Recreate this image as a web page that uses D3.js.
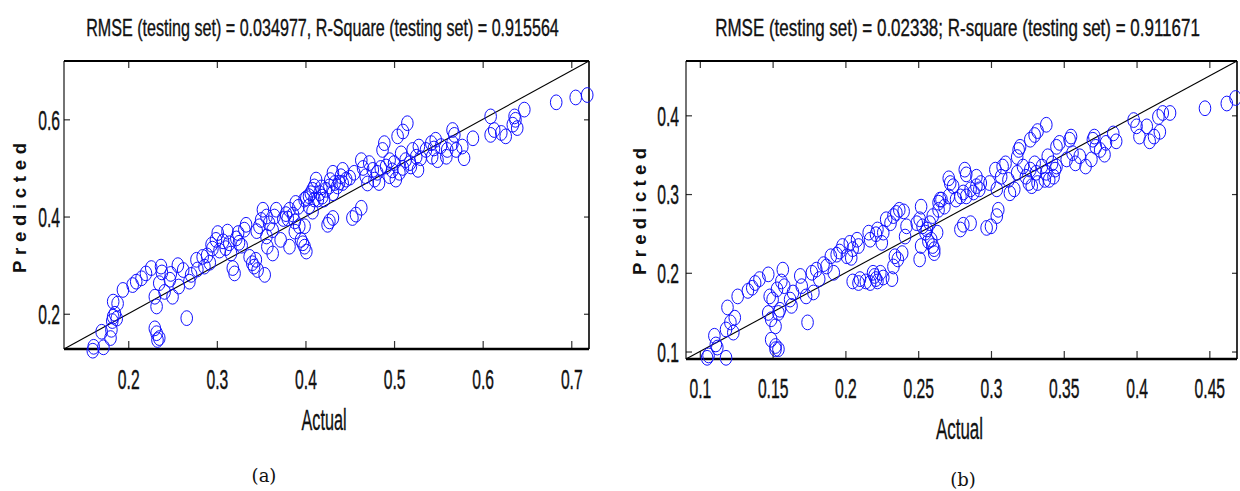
<!DOCTYPE html>
<html>
<head>
<meta charset="utf-8">
<script src="https://cdn.jsdelivr.net/npm/d3@7/dist/d3.min.js"></script>
<style>
  html, body { margin: 0; padding: 0; background: #fff; }
  svg { display: block; }
</style>
</head>
<body>
<svg id="chart" width="1240" height="491"></svg>
<script>
// ---- Panel (a): actual vs predicted ----
const titleA = "RMSE (testing set) = 0.034977, R-Square (testing set) = 0.915564";
const actualA = [
  0.161,0.172,0.170,0.181,0.183,0.185,0.187,0.182,0.183,0.188,0.194,0.205,0.209,0.215,0.220,0.226,
  0.232,0.230,0.232,0.235,0.230,0.237,0.238,0.235,0.241,0.247,0.250,0.256,0.257,0.266,0.271,0.269,
  0.277,0.278,0.284,0.286,0.294,0.295,0.299,0.301,0.307,0.310,0.312,0.314,0.316,0.318,0.320,0.324,
  0.325,0.331,0.333,0.337,0.340,0.344,0.346,0.342,0.350,0.352,0.356,0.354,0.359,0.363,0.367,0.365,
  0.356,0.357,0.363,0.372,0.380,0.382,0.386,0.388,0.389,0.382,0.388,0.393,0.395,0.399,0.401,0.397,
  0.401,0.406,0.410,0.412,0.404,0.408,0.410,0.399,0.399,0.404,0.408,0.414,0.416,0.419,0.423,0.421,
  0.427,0.431,0.433,0.436,0.440,0.442,0.442,0.446,0.431,0.427,0.431,0.425,0.453,0.457,0.463,0.463,
  0.472,0.476,0.468,0.478,0.483,0.481,0.487,0.489,0.491,0.495,0.495,0.500,0.502,0.506,0.504,0.510,
  0.515,0.508,0.513,0.519,0.521,0.525,0.527,0.528,0.536,0.542,0.543,0.547,0.549,0.559,0.560,0.566,
  0.568,0.566,0.570,0.577,0.579,0.589,0.609,0.613,0.609,0.621,0.626,0.634,0.636,0.637,0.639,0.647,
  0.683,0.705,0.718,0.160,0.180,0.233,
  0.289,0.303,0.322,0.328,0.345,0.348,0.375,0.378,0.392,0.418,0.428,0.438,0.450,0.455,0.465,0.470,
  0.485,0.498,0.510,0.518,0.530,0.545,0.553,0.262,0.248,0.292
];
const predictedA = [
  0.132,0.131,0.163,0.167,0.194,0.200,0.190,0.185,0.225,0.221,0.249,0.259,0.266,0.273,0.283,0.294,
  0.215,0.170,0.160,0.150,0.235,0.297,0.285,0.263,0.245,0.270,0.235,0.300,0.256,0.191,0.280,0.266,
  0.311,0.291,0.317,0.297,0.342,0.334,0.352,0.366,0.349,0.335,0.369,0.345,0.324,0.294,0.283,0.366,
  0.346,0.373,0.383,0.317,0.304,0.311,0.290,0.297,0.393,0.414,0.400,0.280,0.386,0.372,0.414,0.400,
  0.359,0.338,0.324,0.352,0.396,0.414,0.404,0.390,0.428,0.338,0.369,0.380,0.352,0.338,0.328,0.345,
  0.438,0.448,0.462,0.476,0.421,0.410,0.435,0.380,0.435,0.442,0.455,0.435,0.448,0.441,0.455,0.435,
  0.462,0.448,0.469,0.462,0.483,0.496,0.469,0.476,0.490,0.390,0.397,0.383,0.397,0.404,0.418,0.516,
  0.510,0.496,0.483,0.476,0.469,0.490,0.537,0.551,0.503,0.516,0.483,0.510,0.476,0.490,0.565,0.575,
  0.592,0.530,0.516,0.503,0.537,0.523,0.496,0.544,0.537,0.551,0.523,0.558,0.516,0.523,0.537,0.578,
  0.568,0.551,0.537,0.544,0.520,0.561,0.568,0.578,0.606,0.572,0.565,0.589,0.606,0.599,0.582,0.620,
  0.635,0.645,0.650,0.124,0.150,0.146,
  0.320,0.330,0.355,0.340,0.370,0.380,0.395,0.405,0.420,0.460,0.475,0.470,0.480,0.490,0.500,0.468,
  0.500,0.495,0.500,0.510,0.520,0.540,0.545,0.290,0.282,0.305
];
const xTicksA = [0.2, 0.3, 0.4, 0.5, 0.6, 0.7];
const yTicksA = [0.2, 0.4, 0.6];
const rangeA = [0.1275, 0.72];

// ---- Panel (b): actual vs predicted ----
const titleB = "RMSE (testing set) = 0.02338; R-square (testing set) = 0.911671";
const actualB = [
  0.105,0.111,0.118,0.110,0.118,0.121,0.124,0.119,0.123,0.126,0.133,0.136,0.138,0.141,0.147,0.147,
  0.149,0.152,0.154,0.149,0.152,0.154,0.148,0.150,0.153,0.157,0.156,0.158,0.155,0.162,0.163,0.164,
  0.169,0.170,0.173,0.174,0.177,0.178,0.180,0.182,0.185,0.187,0.190,0.192,0.194,0.196,0.198,0.201,
  0.203,0.204,0.205,0.208,0.209,0.205,0.209,0.210,0.214,0.217,0.216,0.217,0.221,0.222,0.225,0.226,
  0.219,0.220,0.221,0.222,0.224,0.226,0.232,0.233,0.234,0.236,0.239,0.228,0.231,0.233,0.235,0.237,
  0.240,0.242,0.241,0.249,0.251,0.252,0.253,0.256,0.258,0.259,0.260,0.261,0.263,0.264,0.265,
  0.255,0.252,0.257,0.261,0.251,0.260,0.264,0.266,0.268,0.271,0.272,0.274,0.276,0.279,0.281,0.283,
  0.286,0.288,0.290,0.292,0.293,0.271,0.283,0.290,0.282,0.279,0.281,0.286,0.297,0.300,0.304,0.305,
  0.299,0.303,0.304,0.307,0.308,0.310,0.312,0.313,0.316,0.318,0.319,0.320,0.318,0.322,
  0.324,0.326,0.327,0.328,0.330,0.331,0.332,0.335,0.337,0.338,0.340,0.343,0.344,0.345,
  0.327,0.330,0.332,0.338,
  0.339,0.342,0.345,0.347,0.352,0.354,0.355,0.356,0.358,0.361,0.365,0.369,0.370,0.371,0.372,0.375,
  0.378,0.379,
  0.384,0.386,0.398,0.400,0.402,0.407,0.409,0.412,0.415,0.416,0.418,0.423,
  0.447,0.462,0.468,0.106,0.112,0.152
];
const predictedB = [
  0.092,0.109,0.092,0.120,0.128,0.137,0.143,0.156,0.124,0.170,0.177,0.181,0.187,0.192,0.198,0.149,
  0.141,0.132,0.149,0.115,0.107,0.103,0.170,0.166,0.179,0.204,0.189,0.183,0.153,0.166,0.158,0.175,
  0.196,0.183,0.170,0.137,0.200,0.175,0.204,0.192,0.211,0.208,0.221,0.200,0.223,0.227,0.234,0.221,
  0.238,0.219,0.230,0.242,0.234,0.189,0.187,0.192,0.189,0.187,0.251,0.242,0.249,0.255,0.238,0.251,
  0.200,0.196,0.192,0.189,0.200,0.194,0.192,0.208,0.221,0.217,0.225,0.268,0.263,0.272,0.276,0.280,
  0.278,0.259,0.246,0.263,0.268,0.284,0.259,0.255,0.263,0.242,0.234,0.230,0.251,0.280,0.293,
  0.251,0.234,0.240,0.225,0.217,0.272,0.289,0.293,0.284,0.297,0.314,0.310,0.293,0.297,0.302,0.297,
  0.306,0.302,0.310,0.306,0.314,0.320,0.325,0.322,0.331,0.255,0.261,0.263,0.257,0.259,0.272,0.280,
  0.314,0.331,0.306,0.322,0.335,0.339,0.318,0.301,0.306,0.327,0.356,0.360,0.347,0.335,
  0.322,0.314,0.331,0.310,0.339,0.327,0.314,0.335,0.318,0.327,0.318,0.322,0.331,0.335,
  0.369,0.375,0.380,0.388,
  0.348,0.339,0.360,0.365,0.344,0.369,0.373,0.352,0.339,0.348,0.335,0.344,0.369,0.373,0.360,0.356,
  0.350,0.365,
  0.377,0.367,0.394,0.386,0.373,0.386,0.367,0.373,0.398,0.379,0.403,0.403,
  0.409,0.415,0.422,0.095,0.105,0.103
];
const xTicksB = [0.1, 0.15, 0.2, 0.25, 0.3, 0.35, 0.4, 0.45];
const yTicksB = [0.1, 0.2, 0.3, 0.4];
const rangeB = [0.0905, 0.469];

const xLabel = "Actual";
const yLabel = "Predicted";

const SANS = "'Liberation Sans', Arial, sans-serif";
const SERIF = "'DejaVu Serif', 'Liberation Serif', serif";
const NARROW = 0.58;          // horizontal squeeze of the condensed axis font
const INK = "#111";

const svg = d3.select("#chart");
svg.append("rect").attr("width", 1240).attr("height", 491).attr("fill", "#fff");

// Condensed text: measure natural width, then squeeze horizontally to the wanted width.
function narrowText(parent, str, cx, baseline, size, width) {
  const t = parent.append("text")
    .attr("text-anchor", "middle")
    .attr("font-family", SANS).attr("font-size", size)
    .attr("fill", INK).attr("stroke", INK).attr("stroke-width", 0.35)
    .text(str);
  const natural = t.node().getComputedTextLength();
  const sx = width / natural;
  t.attr("transform", `translate(${cx},${baseline}) scale(${sx},1)`);
  return t;
}

function drawPanel(p) {
  const x = d3.scaleLinear().domain(p.range).range([p.box.left, p.box.right]);
  const y = d3.scaleLinear().domain(p.range).range([p.box.bottom, p.box.top]);
  const g = svg.append("g");

  // title
  narrowText(g, p.title, p.titleX, 36, 23, p.titleLen);

  // axes with inward ticks
  const fmt = d => String(d);
  const bottom = g.append("g").attr("transform", `translate(0,${p.box.bottom})`)
    .call(d3.axisBottom(x).tickValues(p.xTicks).tickFormat(fmt).tickSizeInner(-8).tickSizeOuter(0));
  const top = g.append("g").attr("transform", `translate(0,${p.box.top})`)
    .call(d3.axisTop(x).tickValues(p.xTicks).tickFormat("").tickSizeInner(-7).tickSizeOuter(0));
  const left = g.append("g").attr("transform", `translate(${p.box.left},0)`)
    .call(d3.axisLeft(y).tickValues(p.yTicks).tickFormat(fmt).tickSizeInner(-6).tickSizeOuter(0));
  const right = g.append("g").attr("transform", `translate(${p.box.right},0)`)
    .call(d3.axisRight(y).tickValues(p.yTicks).tickFormat("").tickSizeInner(-5).tickSizeOuter(0));

  [bottom, top, left, right].forEach(a => {
    a.select(".domain").remove();
    a.selectAll(".tick line").attr("stroke", "#333").attr("stroke-width", 1.2);
  });

  bottom.selectAll(".tick text")
    .attr("font-family", SANS).attr("font-size", 27).attr("fill", INK)
    .attr("stroke", INK).attr("stroke-width", 0.4)
    .attr("y", p.xLabelOffset).attr("dy", 0)
    .attr("transform", `scale(${NARROW},1)`);
  left.selectAll(".tick text")
    .attr("font-family", SANS).attr("font-size", 27).attr("fill", INK)
    .attr("stroke", INK).attr("stroke-width", 0.4)
    .attr("x", -p.yLabelPad / NARROW).attr("dy", "0.36em")
    .attr("transform", `scale(${NARROW},1)`);

  // frame
  const fr = g.append("g").attr("stroke", "#000").attr("fill", "none");
  fr.append("line").attr("x1", p.box.left).attr("x2", p.box.right)
    .attr("y1", p.box.bottom).attr("y2", p.box.bottom).attr("stroke-width", 2.4);
  fr.append("line").attr("x1", p.box.left).attr("x2", p.box.right)
    .attr("y1", p.box.top).attr("y2", p.box.top).attr("stroke-width", 2);
  fr.append("line").attr("x1", p.box.left).attr("x2", p.box.left)
    .attr("y1", p.box.top).attr("y2", p.box.bottom).attr("stroke-width", 1.1);
  fr.append("line").attr("x1", p.box.right).attr("x2", p.box.right)
    .attr("y1", p.box.top).attr("y2", p.box.bottom).attr("stroke-width", 1.6);

  // y = x reference line
  g.append("line")
    .attr("x1", x(p.range[0])).attr("y1", y(p.range[0]))
    .attr("x2", x(p.range[1])).attr("y2", y(p.range[1]))
    .attr("stroke", "#000").attr("stroke-width", 1.1);

  // observations
  const pts = p.actual.map((a, i) => [a, p.predicted[i]]);
  g.append("g").selectAll("ellipse").data(pts).join("ellipse")
    .attr("cx", d => x(d[0])).attr("cy", d => y(d[1]))
    .attr("rx", 5.8).attr("ry", 7.4)
    .attr("fill", "none").attr("stroke", "#1010ff").attr("stroke-width", 1);

  // axis titles
  narrowText(g, xLabel, p.actualX, p.actualY, 30, p.actualLen);
  g.append("text")
    .attr("transform", `translate(${p.predX},${p.predY}) rotate(-90)`)
    .attr("text-anchor", "middle")
    .attr("font-family", SANS).attr("font-size", 18.5).attr("font-weight", "bold").attr("fill", INK)
    .attr("textLength", p.predLen).attr("lengthAdjust", "spacing")
    .text(yLabel);

  // panel caption
  g.append("text")
    .attr("x", p.capX).attr("y", p.capY)
    .attr("text-anchor", "middle")
    .attr("font-family", SERIF).attr("font-size", 18).attr("fill", INK)
    .text(p.caption);
}

drawPanel({
  title: titleA, actual: actualA, predicted: predictedA,
  xTicks: xTicksA, yTicks: yTicksA, range: rangeA,
  box: { left: 64, top: 61, right: 589, bottom: 349 },
  titleX: 322.5, titleLen: 473,
  xLabelOffset: 40, yLabelPad: 4,
  actualX: 324, actualY: 430, actualLen: 45,
  predX: 25.5, predY: 208, predLen: 130,
  caption: "(a)", capX: 264, capY: 482
});

drawPanel({
  title: titleB, actual: actualB, predicted: predictedB,
  xTicks: xTicksB, yTicks: yTicksB, range: rangeB,
  box: { left: 686, top: 61, right: 1237, bottom: 359 },
  titleX: 957.5, titleLen: 485,
  xLabelOffset: 39, yLabelPad: 7,
  actualX: 959.5, actualY: 439, actualLen: 47,
  predX: 645.5, predY: 211.5, predLen: 127,
  caption: "(b)", capX: 963, capY: 486
});
</script>
</body>
</html>
